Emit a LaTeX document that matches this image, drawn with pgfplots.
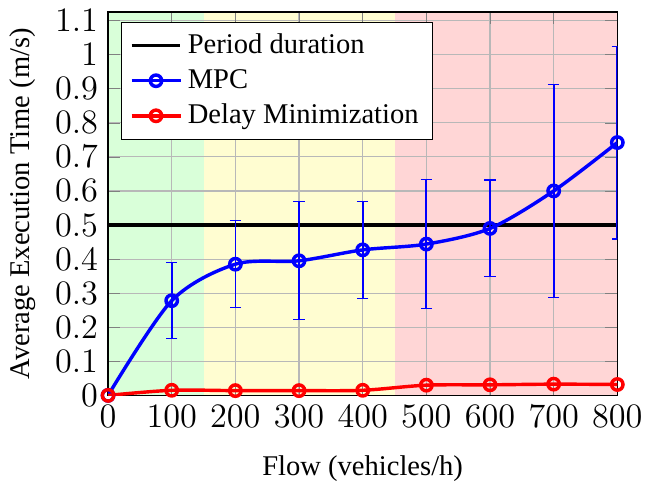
\documentclass[border=0pt]{standalone}
\usepackage[no-math]{fontspec}
\setmainfont{Liberation Serif}
\usepackage{pgfplots}
\pgfplotsset{compat=1.18}
\begin{document}
\begin{tikzpicture}
\begin{axis}[
  width=7.85cm, height=6.3cm,
  set layers,
  xmin=0, xmax=800, ymin=0, ymax=1.125,
  xtick={0,100,...,800},
  ytick={0,0.1,...,1.1},
  tick label style={font=\large},
  grid=major, major grid style={black!28},
  xlabel={Flow (vehicles/h)},
  ylabel={Average Execution Time (m/s)},
  xlabel style={yshift=-3pt},
  legend style={at={(0.025,0.975)}, anchor=north west, draw=black, fill=white},
  legend cell align=left,
]
% coloured load zones
\addplot[fill=green!15, draw=none, forget plot, on layer=axis background] coordinates {(0,1.125)(150,1.125)} \closedcycle;
\addplot[fill=yellow!18, draw=none, forget plot, on layer=axis background] coordinates {(150,1.125)(450,1.125)} \closedcycle;
\addplot[fill=red!16, draw=none, forget plot, on layer=axis background] coordinates {(450,1.125)(800,1.125)} \closedcycle;

\addplot[black, very thick] coordinates {(0,0.5)(800,0.5)};

\addplot[blue, very thick, smooth, mark=o, mark options={solid},
  error bars/.cd, y dir=both, y explicit,
  error bar style={line width=0.6pt, blue}]
  coordinates {
  (0,0) +- (0,0)
  (100,0.278) +- (0,0.112)
  (200,0.385) +- (0,0.127)
  (300,0.395) +- (0,0.173)
  (400,0.427) +- (0,0.143)
  (500,0.444) +- (0,0.19)
  (600,0.49) +- (0,0.142)
  (700,0.6) +- (0,0.312)
  (800,0.742) +- (0,0.283)
  };

\addplot[red, very thick, smooth, mark=o] coordinates {
  (0,0) (100,0.015) (200,0.014) (300,0.014) (400,0.015)
  (500,0.03) (600,0.031) (700,0.033) (800,0.032)
  };
\legend{Period duration, MPC, Delay Minimization}
\end{axis}
\end{tikzpicture}
\end{document}
